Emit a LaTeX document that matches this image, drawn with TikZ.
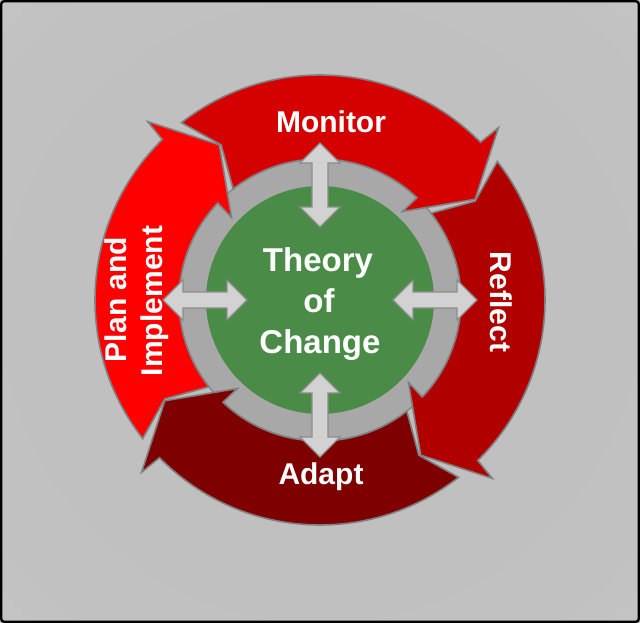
\documentclass[tikz,border=0pt]{standalone}
\usepackage{fontspec}
\setmainfont{Liberation Sans}
\definecolor{bgA}{RGB}{190,190,190}
\definecolor{bgB}{RGB}{193,193,193}
\definecolor{bgC}{RGB}{199,199,199}
\definecolor{bgD}{RGB}{220,220,220}
\definecolor{cMonitor}{RGB}{213,0,0}
\definecolor{cReflect}{RGB}{176,0,0}
\definecolor{cAdapt}{RGB}{126,0,0}
\definecolor{cPlan}{RGB}{255,0,0}
\definecolor{ringgray}{RGB}{168,168,168}
\definecolor{ringedge}{RGB}{132,132,132}
\definecolor{tocgreen}{RGB}{74,140,71}
\definecolor{arrowfill}{RGB}{210,210,210}
\definecolor{arrowedge}{RGB}{140,140,140}
\pgfdeclareradialshading{bgshade}{\pgfpoint{0bp}{0bp}}{color(0bp)=(bgA); color(30bp)=(bgB); color(44bp)=(bgC); color(72bp)=(bgD)}
\tikzset{
  redarr/.style={draw=black!50, line width=1.6pt, line join=miter},
  dblarrow/.style={fill=arrowfill, draw=arrowedge, line width=1.4pt, line join=miter},
  lbl/.style={text=white, font=\fontsize{30}{36}\selectfont\bfseries, inner sep=0pt},
  toclbl/.style={text=white, font=\fontsize{33}{40}\selectfont\bfseries, inner sep=0pt}
}
\newcommand{\redcircarrow}[3]{%
  \pgfmathsetmacro{\rcaT}{#1}%
  \pgfmathsetmacro{\rcaN}{#1-5.5}%
  \pgfmathsetmacro{\rcaO}{#2-1}%
  \pgfmathsetmacro{\rcaWo}{#2-1.5}%
  \pgfmathsetmacro{\rcaWi}{#2+1.5}%
  \pgfmathsetmacro{\rcaI}{#2+1}%
  \pgfmathsetmacro{\rcaP}{#2-12.5}%
  \draw[redarr, fill=#3] (\rcaT:225pt) arc[start angle=\rcaT, end angle=\rcaO, radius=225pt]
    -- (\rcaWo:248pt) -- (\rcaP:185pt) -- (\rcaWi:121pt) -- (\rcaI:141pt)
    arc[start angle=\rcaI, end angle=\rcaT, radius=141pt] -- (\rcaN:184pt) -- cycle;}
\begin{document}
\begin{tikzpicture}[x=1pt,y=1pt]
\useasboundingbox (-320,-323) rectangle (320,300);
\shade[shading=bgshade] (-320,-323) rectangle (320,300);
\draw[black, line width=2.4pt, rounded corners=3pt] (-318.8,-321.8) rectangle (318.8,298.8);
% gray ring
\fill[ringgray] (0,0) circle[radius=141pt];
\draw[ringedge, line width=1.3pt] (0,0) circle[radius=141pt];
% red circular arrows
\redcircarrow{-52}{-134.5}{cAdapt}
\redcircarrow{38}{-44.5}{cReflect}
\redcircarrow{-142}{-224.5}{cPlan}
\redcircarrow{128}{45.5}{cMonitor}
% green centre
\fill[tocgreen] (0,0) circle[radius=114pt];
% double arrows
\foreach \ang in {0,90,180,270}{
  \draw[dblarrow, rotate=\ang] (73,0) -- (93,20) -- (93,8) -- (137,8) -- (137,20) -- (157,0)
    -- (137,-20) -- (137,-8) -- (93,-8) -- (93,-20) -- cycle;
}
% labels
\node[lbl, anchor=base] (monitor) at (11,167) {Monitor};
\node[lbl, anchor=base] (adapt) at (1,-185) {Adapt};
\node[lbl, anchor=base, rotate=-90] (reflect) at (170,-2) {Reflect};
\node[lbl, anchor=base, rotate=90] (plan) at (-193,0.5) {Plan and};
\node[lbl, anchor=base, rotate=90] (implement) at (-157,-1) {Implement};
\node[toclbl, anchor=base] (theory) at (-2,28) {Theory};
\node[toclbl, anchor=base] (of) at (-1,-13) {of};
\node[toclbl, anchor=base] (change) at (0,-54) {Change};
\end{tikzpicture}
\end{document}
